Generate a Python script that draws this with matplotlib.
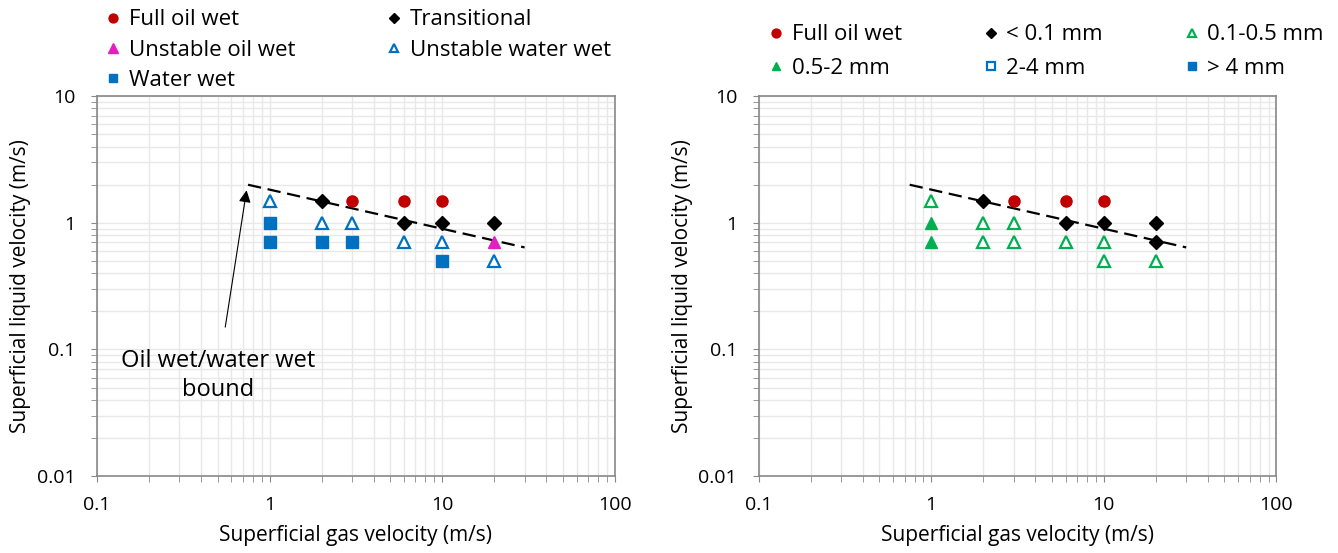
import numpy as np
import matplotlib
matplotlib.use('Agg')
import matplotlib.pyplot as plt
from matplotlib.ticker import LogLocator, FuncFormatter, NullFormatter

plt.rcParams['font.family'] = ['Open Sans', 'DejaVu Sans']

# ---- data: left panel (wettability) ----
full_oil_x = [3, 6, 10]
full_oil_y = [1.5, 1.5, 1.5]
trans_x = [2, 6, 10, 20]
trans_y = [1.5, 1.0, 1.0, 1.0]
unst_oil_x = [20]
unst_oil_y = [0.7]
unst_water_x = [1, 2, 3, 6, 10, 20]
unst_water_y = [1.5, 1.0, 1.0, 0.7, 0.7, 0.5]
water_x = [1, 1, 2, 3, 10]
water_y = [1.0, 0.7, 0.7, 0.7, 0.5]

# ---- data: right panel (droplet size) ----
r_full_x = [3, 6, 10]
r_full_y = [1.5, 1.5, 1.5]
lt01_x = [2, 6, 10, 20, 20]
lt01_y = [1.5, 1.0, 1.0, 1.0, 0.7]
s01_05_x = [1, 2, 3, 2, 3, 6, 10, 10, 20]
s01_05_y = [1.5, 1.0, 1.0, 0.7, 0.7, 0.7, 0.7, 0.5, 0.5]
s05_2_x = [1, 1]
s05_2_y = [1.0, 0.7]
s2_4_x, s2_4_y = [], []
gt4_x, gt4_y = [], []

# oil wet / water wet boundary
bound_x = [0.75, 30]
bound_y = [2.0, 0.64]

RED = '#C00000'
BLUE = '#0070C0'
GREEN = '#00B050'
MAG = '#E020C0'
TFS = 14     # tick labels
FS = 15      # axis labels
LFS = 16     # legend
AFS = 17     # annotation

fig = plt.figure(figsize=(13.38, 5.53), dpi=100)
ax1 = fig.add_axes([0.0725, 0.139, 0.387, 0.687])
ax2 = fig.add_axes([0.567, 0.139, 0.387, 0.687])

def fmt(v, pos):
    return ('%g' % v)

def style(ax):
    ax.set_xscale('log')
    ax.set_yscale('log')
    ax.set_xlim(0.1, 100)
    ax.set_ylim(0.01, 10)
    ax.xaxis.set_major_locator(LogLocator(base=10))
    ax.yaxis.set_major_locator(LogLocator(base=10))
    ax.xaxis.set_minor_locator(LogLocator(base=10, subs=np.arange(2, 10)))
    ax.yaxis.set_minor_locator(LogLocator(base=10, subs=np.arange(2, 10)))
    ax.xaxis.set_major_formatter(FuncFormatter(fmt))
    ax.yaxis.set_major_formatter(FuncFormatter(fmt))
    ax.xaxis.set_minor_formatter(NullFormatter())
    ax.yaxis.set_minor_formatter(NullFormatter())
    ax.grid(True, which='both', color='#E8E8E8', lw=1)
    ax.set_axisbelow(True)
    for s in ax.spines.values():
        s.set_color('#888888')
        s.set_linewidth(1.2)
    ax.tick_params(which='both', direction='out', color='#888888', length=4.5,
                   labelsize=TFS)
    ax.tick_params(axis='x', which='both', pad=10)
    ax.tick_params(axis='y', which='both', pad=11)
    ax.set_xlabel('Superficial gas velocity (m/s)', fontsize=FS, labelpad=8)
    ax.set_ylabel('Superficial liquid velocity (m/s)', fontsize=FS, labelpad=4)
    ax.plot(bound_x, bound_y, '--', color='black', lw=1.6, dashes=(6, 3), zorder=2)

leg_kw = dict(frameon=False, fontsize=LFS, handletextpad=0.1, markerscale=0.8,
              handlelength=1.2, borderpad=0, borderaxespad=0, loc='upper left',
              bbox_transform=fig.transFigure)

ms = 8
style(ax1)
ax1.plot(full_oil_x, full_oil_y, 'o', color=RED, ms=ms, ls='none', label='Full oil wet', zorder=3)
ax1.plot(trans_x, trans_y, 'D', color='black', ms=ms - 1, ls='none', label='Transitional', zorder=3)
ax1.plot(unst_oil_x, unst_oil_y, '^', color=MAG, ms=ms + 1, ls='none', label='Unstable oil wet', zorder=3)
ax1.plot(unst_water_x, unst_water_y, '^', mfc='white', mec=BLUE, mew=1.6, ms=ms, ls='none',
         label='Unstable water wet', zorder=3)
ax1.plot(water_x, water_y, 's', color=BLUE, ms=ms, ls='none', label='Water wet', zorder=3)
ax1.annotate('Oil wet/water wet\nbound', xy=(0.74, 1.9), xytext=(0.5, 0.062),
             ha='center', va='center', fontsize=AFS, linespacing=1.3,
             arrowprops=dict(arrowstyle='-|>', color='black', lw=0.8, mutation_scale=18,
                             shrinkA=14))
h, l = ax1.get_legend_handles_labels()
order = [0, 2, 4, 1, 3]
ax1.legend([h[i] for i in order], [l[i] for i in order], ncol=2,
           bbox_to_anchor=(0.0745, 0.983), columnspacing=3.85, labelspacing=0.42, **leg_kw)

style(ax2)
ax2.plot(r_full_x, r_full_y, 'o', color=RED, ms=ms, ls='none', label='Full oil wet', zorder=3)
ax2.plot(lt01_x, lt01_y, 'D', color='black', ms=ms - 1, ls='none', label='< 0.1 mm', zorder=3)
ax2.plot(s01_05_x, s01_05_y, '^', mfc='white', mec=GREEN, mew=1.6, ms=ms, ls='none',
         label='0.1-0.5 mm', zorder=3)
ax2.plot(s05_2_x, s05_2_y, '^', color=GREEN, ms=ms, ls='none', label='0.5-2 mm', zorder=3)
ax2.plot(s2_4_x, s2_4_y, 's', mfc='white', mec=BLUE, mew=1.6, ms=ms, ls='none', label='2-4 mm')
ax2.plot(gt4_x, gt4_y, 's', color=BLUE, ms=ms, ls='none', label='> 4 mm')
h, l = ax2.get_legend_handles_labels()
order = [0, 3, 1, 4, 2, 5]
ax2.legend([h[i] for i in order], [l[i] for i in order], ncol=3,
           bbox_to_anchor=(0.570, 0.956), columnspacing=3.4, labelspacing=0.55, **leg_kw)

fig.savefig('out.png', dpi=100)
